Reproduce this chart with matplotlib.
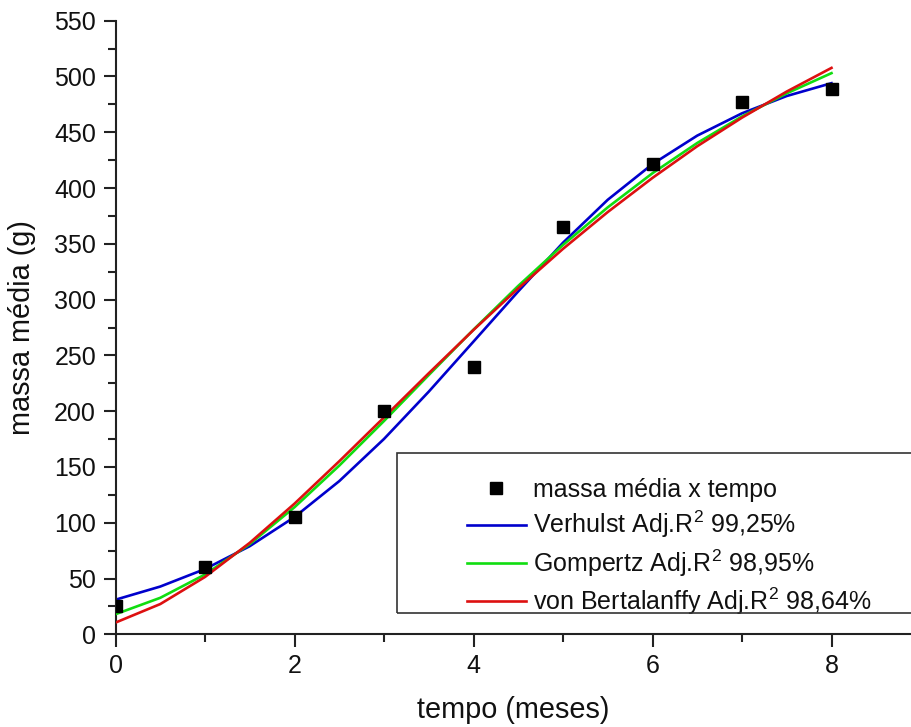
import matplotlib
matplotlib.use("Agg")
import matplotlib.pyplot as plt
from matplotlib.patches import Rectangle
from matplotlib.ticker import MultipleLocator

plt.rcParams['font.family'] = ['Liberation Sans', 'DejaVu Sans']
plt.rcParams['mathtext.fontset'] = 'custom'
plt.rcParams['mathtext.rm'] = 'Liberation Sans'
plt.rcParams['mathtext.it'] = 'Liberation Sans'

# observed data
tempo = [0, 1, 2, 3, 4, 5, 6, 7, 8]
massa = [25.5, 60, 105, 200, 240, 365, 422, 477, 489]

# fitted curves
t_fit = [0, 0.5, 1, 1.5, 2, 2.5, 3, 3.5, 4, 4.5, 5, 5.5, 6, 6.5, 7, 7.5, 8]
verhulst = [31.0, 42.8, 58.5, 79.0, 105.1, 137.3, 175.1, 217.5, 262.4, 307.4,
            351.0, 389.5, 421.5, 447.0, 467.0, 482.5, 494.0]
gompertz = [18.0, 32.7, 53.6, 80.9, 113.9, 151.2, 191.2, 232.4, 273.1, 312.3,
            349.0, 382.7, 413.3, 440.4, 464.2, 484.9, 503.0]
bertalanffy = [10.5, 27.1, 51.4, 82.0, 117.1, 155.1, 194.4, 234.0, 272.8, 310.1,
               345.5, 378.5, 409.1, 437.5, 463.1, 486.5, 507.7]

labels = ['massa média x tempo',
          'Verhulst Adj.R$^2$ 99,25%',
          'Gompertz Adj.R$^2$ 98,95%',
          'von Bertalanffy Adj.R$^2$ 98,64%']

W, H = 911, 727
fig = plt.figure(figsize=(W / 100, H / 100), dpi=100)
x0px, unit = 115.5, 89.5
ax = fig.add_axes([x0px / W, 92.7 / H, 1 - x0px / W, (634.3 - 20.7) / H])

l1, = ax.plot(t_fit, verhulst, color='#0000CC', lw=1.9, zorder=2)
l2, = ax.plot(t_fit, gompertz, color='#10DD10', lw=1.9, zorder=3)
l3, = ax.plot(t_fit, bertalanffy, color='#DD1010', lw=1.9, zorder=4)
pts, = ax.plot(tempo, massa, linestyle='none', marker='s', color='black',
               markersize=9, zorder=5)

ax.set_xlim(0, (W - x0px) / unit)
ax.set_ylim(0, 550)
ax.xaxis.set_major_locator(MultipleLocator(2))
ax.xaxis.set_minor_locator(MultipleLocator(1))
ax.yaxis.set_major_locator(MultipleLocator(50))
ax.yaxis.set_minor_locator(MultipleLocator(25))

for s in ['top', 'right']:
    ax.spines[s].set_visible(False)
for s in ['left', 'bottom']:
    ax.spines[s].set_linewidth(1.5)
    ax.spines[s].set_color('#222222')

ax.tick_params(which='major', direction='out', length=9, width=1.5,
               labelsize=18, pad=5, colors='#222222')
ax.tick_params(which='minor', direction='out', length=5.5, width=1.5,
               colors='#222222')
for lab in ax.get_xticklabels() + ax.get_yticklabels():
    lab.set_color('#111111')

ax.set_xlabel('tempo (meses)', fontsize=20.8, labelpad=13, color='#111111')
ax.set_ylabel('massa média (g)', fontsize=20.8, labelpad=13, color='#111111')

# legend box (cropped at the right edge like the reference)
fig.patches.append(Rectangle((397 / W, (H - 613) / H), (940 - 397) / W,
                             (613 - 453) / H, transform=fig.transFigure,
                             fill=False, edgecolor='#333333', lw=1.2,
                             zorder=10))
leg = fig.legend([pts, l1, l2, l3], labels, loc='upper left',
                 bbox_to_anchor=(467 / W, (H - 478) / H),
                 frameon=False, fontsize=18, handlelength=2.35,
                 handletextpad=0.3, labelspacing=0.28, borderpad=0,
                 borderaxespad=0)
for t in leg.get_texts():
    t.set_color('#111111')

fig.savefig('out.png', dpi=100)
